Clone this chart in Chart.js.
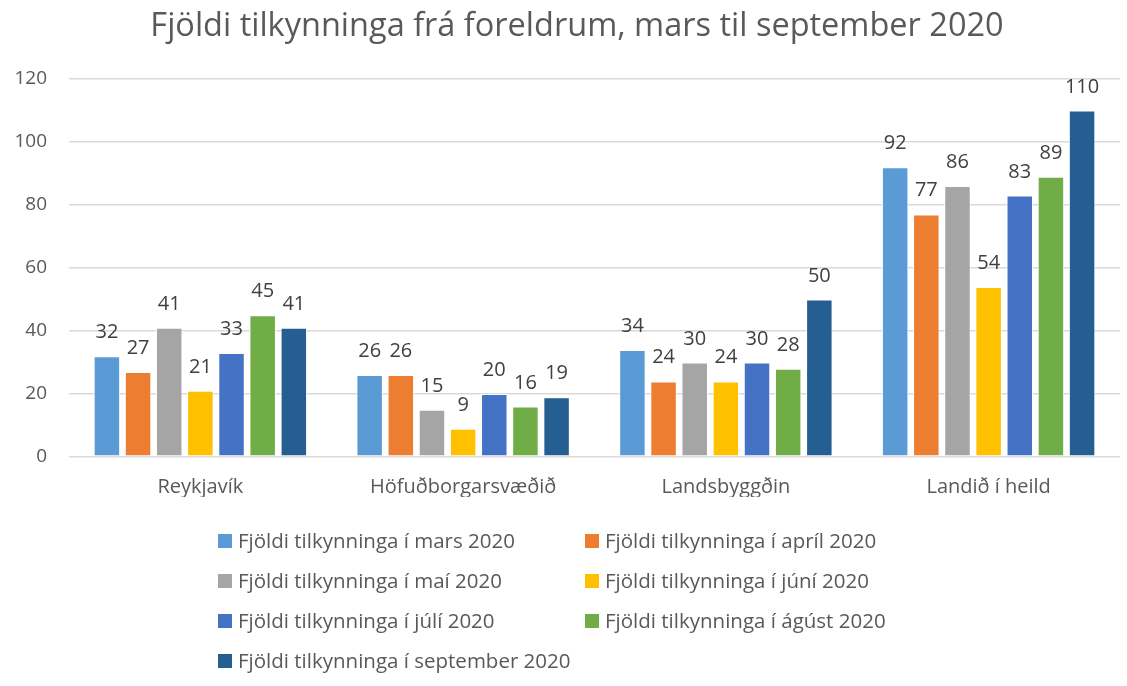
<!DOCTYPE html>
<html>
<head>
<meta charset="utf-8">
<script src="https://cdn.jsdelivr.net/npm/chart.js@4.4.0/dist/chart.umd.min.js"></script>
<style>
  html, body { margin: 0; padding: 0; background: #ffffff; }
  #wrap { width: 1127px; height: 686px; position: relative; }
</style>
</head>
<body>
<div id="wrap"><canvas id="chart"></canvas></div>
<script>
// Fjöldi tilkynninga frá foreldrum — grouped bars per region

const chartTitle = 'Fjöldi tilkynninga frá foreldrum, mars til september 2020';

const categories = ['Reykjavík', 'Höfuðborgarsvæðið', 'Landsbyggðin', 'Landið í heild'];

const seriesNames = [
  'Fjöldi tilkynninga í mars 2020',
  'Fjöldi tilkynninga í apríl 2020',
  'Fjöldi tilkynninga í maí 2020',
  'Fjöldi tilkynninga í júní 2020',
  'Fjöldi tilkynninga í júlí 2020',
  'Fjöldi tilkynninga í ágúst 2020',
  'Fjöldi tilkynninga í september 2020'
];

const marsValues = [32, 26, 34, 92];
const aprilValues = [27, 26, 24, 77];
const maiValues = [41, 15, 30, 86];
const juniValues = [21, 9, 24, 54];
const juliValues = [33, 20, 30, 83];
const agustValues = [45, 16, 28, 89];
const septemberValues = [41, 19, 50, 110];

const seriesColors = ['#5B9BD5', '#ED7D31', '#A5A5A5', '#FFC000', '#4472C4', '#70AD47', '#255E91'];

const yTicks = [0, 20, 40, 60, 80, 100, 120];

const FONT = '"Open Sans", Lato, sans-serif';

const allValues = [marsValues, aprilValues, maiValues, juniValues, juliValues, agustValues, septemberValues];

const datasets = allValues.map(function (vals, i) {
  return {
    label: seriesNames[i],
    data: vals,
    backgroundColor: seriesColors[i],
    borderColor: '#ffffff',
    borderWidth: 1,
    borderSkipped: false,
    categoryPercentage: 0.83,
    barPercentage: 0.85
  };
});

// title, centred a bit right of the canvas middle like the original
const topTitle = {
  id: 'topTitle',
  afterDraw: function (chart) {
    const ctx = chart.ctx;
    ctx.save();
    ctx.font = '32.5px ' + FONT;
    ctx.fillStyle = '#595959';
    ctx.textAlign = 'center';
    ctx.textBaseline = 'middle';
    ctx.fillText(chartTitle, 577, 27);
    ctx.restore();
  }
};

// value labels above each bar
const barLabels = {
  id: 'barLabels',
  afterDatasetsDraw: function (chart) {
    const ctx = chart.ctx;
    ctx.save();
    ctx.font = '20px ' + FONT;
    ctx.fillStyle = '#404040';
    ctx.textAlign = 'center';
    ctx.textBaseline = 'alphabetic';
    chart.data.datasets.forEach(function (ds, di) {
      const meta = chart.getDatasetMeta(di);
      meta.data.forEach(function (bar, i) {
        ctx.fillText(String(ds.data[i]), bar.x, bar.y - 18);
      });
    });
    ctx.restore();
  }
};

// two-column legend under the plot
const gridLegend = {
  id: 'gridLegend',
  afterDraw: function (chart) {
    const ctx = chart.ctx;
    const colX = [218, 585];
    const rowY0 = 541;
    const rowGap = 40;
    ctx.save();
    ctx.font = '20.5px ' + FONT;
    ctx.textAlign = 'left';
    ctx.textBaseline = 'middle';
    chart.data.datasets.forEach(function (ds, i) {
      const x = colX[i % 2];
      const y = rowY0 + Math.floor(i / 2) * rowGap;
      ctx.fillStyle = ds.backgroundColor;
      ctx.fillRect(x, y - 7, 14, 14);
      ctx.fillStyle = '#595959';
      ctx.fillText(ds.label, x + 20, y + 1);
    });
    ctx.restore();
  }
};

new Chart(document.getElementById('chart'), {
  type: 'bar',
  data: { labels: categories, datasets: datasets },
  options: {
    responsive: true,
    maintainAspectRatio: false,
    animation: false,
    layout: { padding: { top: 79, left: 0, right: 7, bottom: 189 } },
    plugins: {
      legend: { display: false },
      tooltip: { enabled: false },
      title: { display: false }
    },
    scales: {
      x: {
        grid: { display: false, drawTicks: false },
        border: { display: false },
        ticks: {
          color: '#595959',
          font: { family: FONT, size: 20 },
          padding: 18
        },
        afterFit: function (scale) { scale.height = 40; }
      },
      y: {
        min: 0,
        max: 120,
        afterBuildTicks: function (scale) {
          scale.ticks = yTicks.map(function (v) { return { value: v }; });
        },
        grid: { color: '#d9d9d9', lineWidth: 1.5, drawTicks: false },
        border: { display: false },
        ticks: {
          color: '#595959',
          font: { family: FONT, size: 19 },
          padding: 22
        },
        afterFit: function (scale) { scale.width = 69; }
      }
    }
  },
  plugins: [barLabels, gridLegend, topTitle]
});
</script>
</body>
</html>
